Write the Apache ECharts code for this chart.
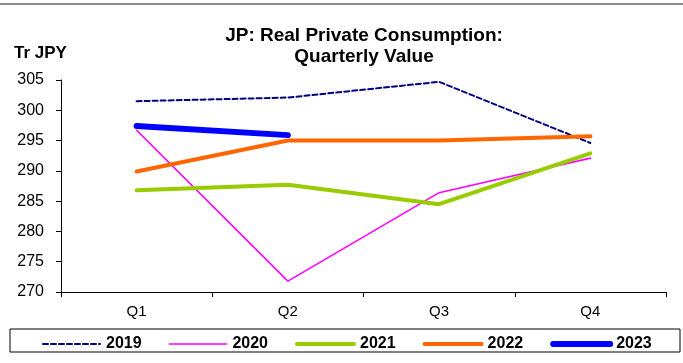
<!DOCTYPE html>
<html>
<head>
<meta charset="utf-8">
<script src="https://cdn.jsdelivr.net/npm/echarts@6/dist/echarts.min.js"></script>
<style>
  html, body { margin: 0; padding: 0; background: #fff; }
  #chart { width: 683px; height: 363px; }
</style>
</head>
<body>
<div id="chart"></div>
<script>
// Quarterly real private consumption, trillion yen
const quarters = ['Q1', 'Q2', 'Q3', 'Q4'];
const y2019 = [301.5, 302.1, 304.7, 294.6];
const y2020 = [296.7, 271.8, 286.4, 292.1];
const y2021 = [286.8, 287.7, 284.5, 292.9];
const y2022 = [289.9, 295.0, 295.0, 295.7];
const y2023 = [297.4, 295.9];
const yTicks = { min: 270, max: 305, step: 5 };

const font = 'Liberation Sans, Arial, sans-serif';

const styles = {
  '2019': { color: '#000080', width: 2, type: [5, 3] },
  '2020': { color: '#ff00ff', width: 1.6, type: 'solid' },
  '2021': { color: '#99cc00', width: 4, type: 'solid' },
  '2022': { color: '#ff6600', width: 4, type: 'solid' },
  '2023': { color: '#0000ff', width: 6, type: 'solid' }
};

const chart = echarts.init(document.getElementById('chart'), null, { renderer: 'canvas' });

function lineSeries(name, data) {
  const s = styles[name];
  return {
    name: name,
    type: 'line',
    data: data,
    symbol: 'none',
    showSymbol: false,
    lineStyle: { color: s.color, width: s.width, type: s.type, cap: 'round' },
    itemStyle: { color: s.color },
    emphasis: { disabled: true },
    animation: false
  };
}

chart.setOption({
  backgroundColor: '#fff',
  animation: false,
  title: {
    text: 'JP: Real Private Consumption:\nQuarterly Value',
    left: 359,
    textAlign: 'center',
    top: 20,
    textStyle: { fontFamily: font, fontSize: 19, fontWeight: 'bold', color: '#000', lineHeight: 21 }
  },
  graphic: [
    { type: 'line', shape: { x1: 0, y1: 4, x2: 683, y2: 4 }, style: { stroke: '#8a8a8a', lineWidth: 2 } },
    { type: 'text', left: 14, top: 45, style: { text: 'Tr JPY', font: 'bold 17px ' + font, fill: '#000' } },
    { type: 'rect', shape: { x: 10, y: 329, width: 670, height: 23 }, style: { fill: 'none', stroke: '#000', lineWidth: 1 }, z: 0 }
  ],
  grid: { left: 61, right: 17, top: 80, bottom: 71 },
  xAxis: {
    type: 'category',
    data: quarters,
    boundaryGap: true,
    axisLine: { lineStyle: { color: '#000', width: 1 } },
    axisTick: { show: true, length: 5, lineStyle: { color: '#000' } },
    axisLabel: { fontFamily: font, fontSize: 15, color: '#000', margin: 12 },
    splitLine: { show: false }
  },
  yAxis: {
    type: 'value',
    min: yTicks.min,
    max: yTicks.max,
    interval: yTicks.step,
    axisLine: { show: true, lineStyle: { color: '#000', width: 1 } },
    axisTick: { show: true, length: 5, lineStyle: { color: '#000' } },
    axisLabel: { fontFamily: font, fontSize: 16, color: '#000', margin: 17 },
    splitLine: { show: false }
  },
  legend: {
    left: 37,
    top: 331,
    itemWidth: 57,
    itemHeight: 18,
    itemGap: 27,
    itemStyle: { opacity: 0 },
    data: Object.keys(styles).map(function (k) {
      return { name: k, lineStyle: { width: styles[k].width, type: styles[k].type, cap: 'round' } };
    }),
    textStyle: { fontFamily: font, fontSize: 16, fontWeight: 'bold', color: '#000', padding: [0, 0, 0, 1] },
    selectedMode: false
  },
  series: [
    lineSeries('2019', y2019),
    lineSeries('2020', y2020),
    lineSeries('2021', y2021),
    lineSeries('2022', y2022),
    lineSeries('2023', y2023)
  ]
});
</script>
</body>
</html>
